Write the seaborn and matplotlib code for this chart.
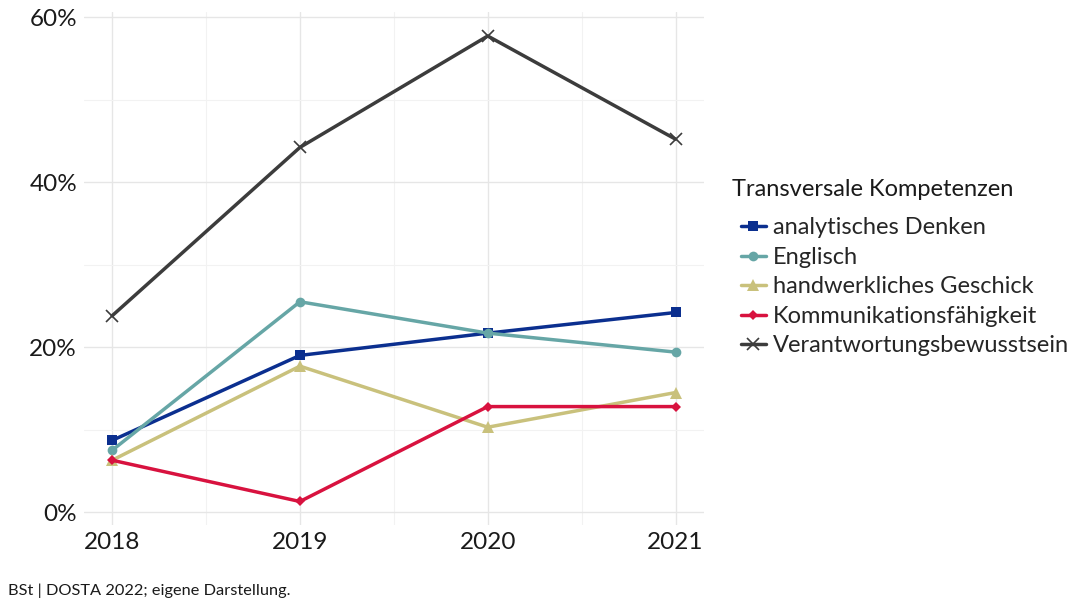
import matplotlib
matplotlib.use("Agg")
import matplotlib.pyplot as plt
import seaborn as sns
import pandas as pd
from matplotlib.ticker import MultipleLocator, FuncFormatter

years = [2018, 2019, 2020, 2021]
series_names = ["analytisches Denken", "Englisch", "handwerkliches Geschick",
                "Kommunikationsfähigkeit", "Verantwortungsbewusstsein"]
analytisch = [8.7, 19.0, 21.7, 24.2]
englisch = [7.5, 25.5, 21.7, 19.4]
handwerk = [6.3, 17.7, 10.3, 14.5]
kommunikation = [6.3, 1.3, 12.8, 12.8]
verantwortung = [23.8, 44.2, 57.7, 45.2]
legend_title = "Transversale Kompetenzen"
caption = "BSt | DOSTA 2022; eigene Darstellung."

colors = ["#0b2f8f", "#66a6a6", "#c9c17c", "#d8123f", "#3c3c3c"]
markers = ["s", "o", "^", "D", "x"]

values = [analytisch, englisch, handwerk, kommunikation, verantwortung]
rows = []
for name, vals in zip(series_names, values):
    for y, v in zip(years, vals):
        rows.append({"Jahr": y, "Wert": v, "Kompetenz": name})
df = pd.DataFrame(rows)

sns.set_theme(style="white")
plt.rcParams['font.family'] = ['Lato', 'DejaVu Sans']

W, H = 1076, 603
fig = plt.figure(figsize=(W / 100, H / 100), dpi=100)
ax = fig.add_axes([0.078, 0.13, 0.576, 0.85])

palette = dict(zip(series_names, colors))
mk = dict(zip(series_names, markers))
sizes = {"s": 7, "o": 7, "^": 8, "D": 5, "x": 8}
for name in series_names:
    sub = df[df["Kompetenz"] == name]
    m = mk[name]
    sns.lineplot(data=sub, x="Jahr", y="Wert", ax=ax, color=palette[name],
                 marker=m, markersize=sizes[m], linewidth=2.5,
                 markeredgewidth=1.2 if m == "x" else 0,
                 markeredgecolor=palette[name], label=name, zorder=3)

ax.set_xlim(2017.85, 2021.15)
ax.set_ylim(-1.5, 60.6)
ax.set_xticks(years)
ax.set_xticklabels([str(y) for y in years])
ax.yaxis.set_major_locator(MultipleLocator(20))
ax.yaxis.set_minor_locator(MultipleLocator(10))
ax.xaxis.set_minor_locator(MultipleLocator(0.5))
ax.yaxis.set_major_formatter(FuncFormatter(lambda v, p: f"{int(v)}%"))
ax.grid(which="major", color="#e6e6e6", linewidth=1.0)
ax.grid(which="minor", color="#f2f2f2", linewidth=0.8)
ax.set_axisbelow(True)
for s in ax.spines.values():
    s.set_visible(False)
ax.tick_params(axis="both", which="both", length=0, labelsize=17.5, colors="#1a1a1a", pad=5)
ax.set_xlabel("")
ax.set_ylabel("")

handles, labels = ax.get_legend_handles_labels()
leg = fig.legend(handles, labels, loc="center left",
                 bbox_to_anchor=(741 / W, 1 - 287 / H), bbox_transform=fig.transFigure,
                 frameon=False, fontsize=17, handlelength=1.05, handletextpad=0.3,
                 labelspacing=0.36, borderpad=0, borderaxespad=0)
if ax.get_legend():
    ax.get_legend().remove()

fig.text(732 / W, 1 - 190 / H, legend_title, fontsize=17, color="#1a1a1a", va="center")
fig.text(8 / W, 1 - 591 / H, caption, fontsize=11.8, color="#1a1a1a", va="center")

fig.savefig("out.png", dpi=100)
